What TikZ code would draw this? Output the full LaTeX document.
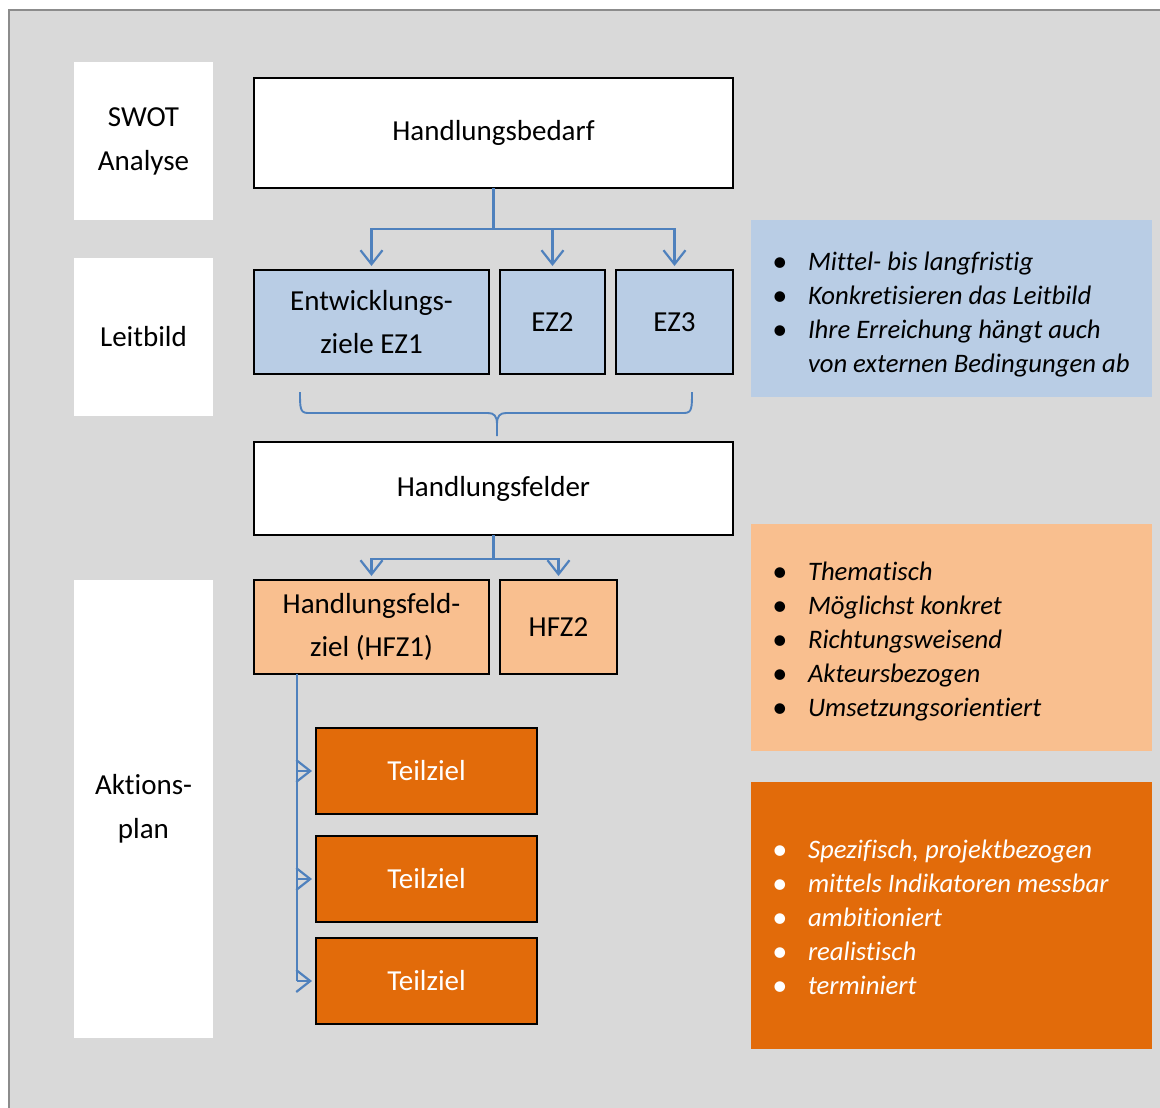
\documentclass[tikz,border=0pt]{standalone}
\usepackage{fontspec}
\setmainfont{Carlito}[RawFeature={-liga;-clig;-calt;-dlig}]
\usetikzlibrary{arrows.meta}
\definecolor{bg}{HTML}{D9D9D9}
\definecolor{framecol}{HTML}{8C8C8C}
\definecolor{lblue}{HTML}{B9CDE5}
\definecolor{lorange}{HTML}{F9BF8F}
\definecolor{dorange}{HTML}{E26B0A}
\definecolor{conn}{HTML}{4F81BD}
\newcommand{\bul}{\makebox[36pt][l]{\fontsize{30}{30}\selectfont\raisebox{-1pt}{•}}}
\begin{document}
\begin{tikzpicture}[x=1pt,y=-1pt,
  boxnode/.style={draw=black, line width=1.3pt, anchor=north west, inner sep=0pt, outer sep=0pt,
    align=center, font=\fontsize{29}{43}\selectfont},
  sidelabel/.style={fill=white, anchor=north west, inner sep=0pt, outer sep=0pt,
    align=center, font=\fontsize{29}{44}\selectfont},
  infobox/.style={anchor=north west, inner sep=0pt, outer sep=0pt},
  infotext/.style={anchor=north west, inner sep=0pt, outer sep=0pt,
    font=\fontsize{26.7}{34}\selectfont\itshape},
  cline/.style={draw=conn, line width=2.2pt},
  arr/.style={cline, -{Straight Barb[length=14pt,width=22pt]}},
]
\useasboundingbox (0,0) rectangle (1160,1108);
% outer frame
\draw[draw=framecol, line width=2pt, fill=bg] (9,10) rectangle (1175,1125);

% side labels
\node[sidelabel, minimum width=139pt, minimum height=158pt] (swot) at (74,62) {SWOT\\Analyse};
\node[sidelabel, minimum width=139pt, minimum height=158pt] (leit) at (74,258) {Leitbild};
\node[sidelabel, minimum width=139pt, minimum height=458pt] (akt) at (74,580) {Aktions-\\plan};

% main boxes
\node[boxnode, fill=white, minimum width=479pt, minimum height=110pt] (hb) at (254,78) {Handlungsbedarf};
\node[boxnode, fill=lblue, minimum width=235pt, minimum height=104pt] (ez1) at (254,270) {Entwicklungs-\\ziele EZ1};
\node[boxnode, fill=lblue, minimum width=105pt, minimum height=104pt] (ez2) at (500,270) {EZ2};
\node[boxnode, fill=lblue, minimum width=117pt, minimum height=104pt] (ez3) at (616,270) {EZ3};
\node[boxnode, fill=white, minimum width=479pt, minimum height=93pt] (hf) at (254,442) {Handlungsfelder};
\node[boxnode, fill=lorange, minimum width=235pt, minimum height=94pt] (hfz1) at (254,580) {Handlungsfeld-\\ziel (HFZ1)};
\node[boxnode, fill=lorange, minimum width=117pt, minimum height=94pt] (hfz2) at (500,580) {HFZ2};
\node[boxnode, fill=dorange, text=white, minimum width=221pt, minimum height=86pt] (t1) at (316,728) {Teilziel};
\node[boxnode, fill=dorange, text=white, minimum width=221pt, minimum height=86pt] (t2) at (316,836) {Teilziel};
\node[boxnode, fill=dorange, text=white, minimum width=221pt, minimum height=86pt] (t3) at (316,938) {Teilziel};

% info boxes
\node[infobox, fill=lblue, minimum width=401pt, minimum height=177pt] (ia) at (751,220) {};
\node[infotext] (ta) at (772,247) {\begin{tabular}{@{}l@{}l@{}}
\bul & Mittel- bis langfristig\\
\bul & Konkretisieren das Leitbild\\
\bul & Ihre Erreichung hängt auch\\
 & von externen Bedingungen ab
\end{tabular}};
\node[infobox, fill=lorange, minimum width=401pt, minimum height=227pt] (ib) at (751,524) {};
\node[infotext] (tb) at (772,557) {\begin{tabular}{@{}l@{}l@{}}
\bul & Thematisch\\
\bul & Möglichst konkret\\
\bul & Richtungsweisend\\
\bul & Akteursbezogen\\
\bul & Umsetzungsorientiert
\end{tabular}};
\node[infobox, fill=dorange, minimum width=401pt, minimum height=267pt] (ic) at (751,782) {};
\node[infotext, text=white] (tc) at (772,835) {\begin{tabular}{@{}l@{}l@{}}
\bul & Spezifisch, projektbezogen\\
\bul & mittels Indikatoren messbar\\
\bul & ambitioniert\\
\bul & realistisch\\
\bul & terminiert
\end{tabular}};

% connectors: Handlungsbedarf -> EZ
\coordinate (hbj) at (493.5,229);
\draw[cline] (hb.south) -- (hbj);
\draw[arr, shorten >=4pt] (hbj) -| (ez1.north);
\draw[arr, shorten >=4pt] (hbj) -| (ez2.north);
\draw[arr, shorten >=4pt] (hbj) -| (ez3.north);

% brace: EZ -> Handlungsfelder
\coordinate (brl) at (300,392);
\coordinate (brr) at (692,392);
\coordinate (brt) at (497,436);
\draw[cline, line width=1.9pt] (brl) .. controls (300,408) and (300,413) .. (308,413) -- (488,413)
  .. controls (494,413) and (497,416) .. (497,424) -- (brt);
\draw[cline, line width=1.9pt] (brr) .. controls (692,408) and (692,413) .. (684,413) -- (506,413)
  .. controls (500,413) and (497,416) .. (497,424);

% connectors: Handlungsfelder -> HFZ
\coordinate (hfj) at (493.5,559);
\draw[cline] (hf.south) -- (hfj);
\draw[arr, shorten >=4pt] (hfj) -| (hfz1.north);
\draw[arr, shorten >=4pt] (hfj) -| (hfz2.north);

% connectors: HFZ1 -> Teilziele
\coordinate (tl0) at (297,674);
\coordinate (tlend) at (297,981);
\draw[cline] (tl0) -- (tlend);
\draw[arr, shorten >=4pt] (tl0 |- t1.west) -- (t1.west);
\draw[arr, shorten >=4pt] (tl0 |- t2.west) -- (t2.west);
\draw[arr, shorten >=4pt] (tl0 |- t3.west) -- (t3.west);
\end{tikzpicture}
\end{document}
